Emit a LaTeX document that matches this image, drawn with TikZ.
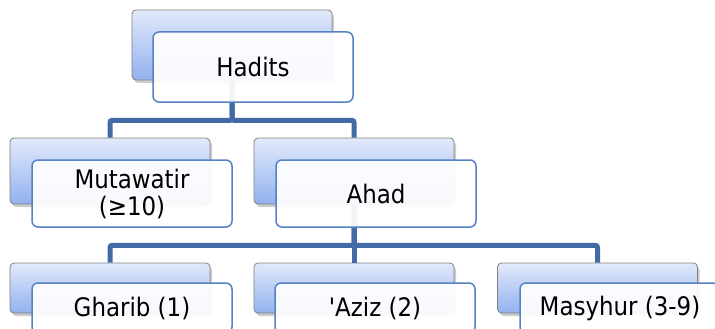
\documentclass[tikz,border=0pt]{standalone}
\usepackage{fontspec}
\usepackage{xcolor}
\usepackage{tikz}
\usetikzlibrary{shadows}
\newfontfamily\boxfont{DejaVu Sans Condensed}
\definecolor{linkblue}{RGB}{66,106,166}
\definecolor{edgeblue}{RGB}{84,130,196}
\definecolor{backtop}{RGB}{226,234,251}
\definecolor{backbot}{RGB}{146,177,238}
\tikzset{
  backbox/.style={draw=black!50, line width=0.8pt, rounded corners=4pt,
    top color=backtop, bottom color=backbot, minimum width=200pt,
    drop shadow={shadow xshift=2pt, shadow yshift=-3pt, opacity=0.4}},
  frontbox/.style={draw=edgeblue, line width=1.5pt, rounded corners=6pt,
    fill=white, fill opacity=0.93, text opacity=1, minimum width=200pt,
    inner sep=0pt, align=center, font=\boxfont\fontsize{25.5}{27}\selectfont},
  link/.style={draw=linkblue, line width=5pt, rounded corners=2pt}
}
\begin{document}
\begin{tikzpicture}[x=1pt, y=-1pt]
\useasboundingbox (0,0) rectangle (715,329);
% back boxes
\node[backbox, minimum height=70pt] (hadback) at (232,45) {};
\node[backbox, minimum height=66pt] (mutback) at (110,171) {};
\node[backbox, minimum height=66pt] (ahaback) at (354,171) {};
\node[backbox, minimum height=50pt] (ghaback) at (110,288) {};
\node[backbox, minimum height=50pt] (azback) at (354,288) {};
\node[backbox, minimum height=50pt] (masback) at (597.5,288) {};
% connectors
\draw[link] (hadback.south) -- ++(0,40) -| (mutback.north);
\draw[link] (hadback.south) -- ++(0,40) -| (ahaback.north);
\draw[link] (ahaback.south) -- ++(0,41) -| (ghaback.north);
\draw[link] (ahaback.south) -- (azback.north);
\draw[link] (ahaback.south) -- ++(0,41) -| (masback.north);
% front boxes
\node[frontbox, minimum height=70pt] (hadfront) at (253,67) {Hadits};
\node[frontbox, minimum height=67pt] (mutfront) at (132,193.5) {Mutawatir\\(≥10)};
\node[frontbox, minimum height=67pt] (ahafront) at (376,193.5) {Ahad};
\node[frontbox, minimum height=50pt] (ghafront) at (132,308) {Gharib (1)};
\node[frontbox, minimum height=50pt] (azfront) at (375,308) {'Aziz (2)};
\node[frontbox, minimum height=50pt] (masfront) at (620,308) {Masyhur (3-9)};
\end{tikzpicture}
\end{document}
